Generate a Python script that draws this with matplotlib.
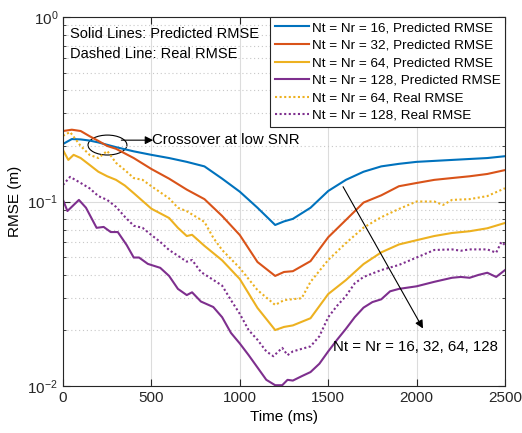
import numpy as np
import matplotlib
matplotlib.use("Agg")
import matplotlib.pyplot as plt
from matplotlib.patches import Ellipse

plt.rcParams['font.family'] = ['Liberation Sans', 'DejaVu Sans']
plt.rcParams['mathtext.fontset'] = 'custom'
plt.rcParams['mathtext.rm'] = 'Liberation Sans'

# -----------------------------
# data (time in ms, RMSE in m)
# -----------------------------
t_16 = [0, 50, 100, 150, 200, 300, 400, 500, 600, 700, 800, 900, 1000, 1100,
        1200, 1250, 1300, 1400, 1500, 1600, 1700, 1800, 1900, 2000, 2100,
        2200, 2300, 2400, 2500]
pred_16 = [0.205, 0.218, 0.217, 0.214, 0.209, 0.197, 0.187, 0.179, 0.172,
           0.164, 0.155, 0.133, 0.113, 0.0925, 0.0746, 0.078, 0.0805, 0.0925,
           0.114, 0.131, 0.145, 0.155, 0.160, 0.164, 0.166, 0.168, 0.170,
           0.172, 0.176]

t_32 = [0, 50, 100, 150, 200, 250, 300, 400, 500, 600, 700, 800, 900, 1000,
        1100, 1200, 1250, 1300, 1400, 1500, 1600, 1700, 1800, 1900, 2000,
        2100, 2200, 2300, 2400, 2500]
pred_32 = [0.241, 0.245, 0.241, 0.226, 0.213, 0.200, 0.193, 0.172, 0.150,
           0.133, 0.116, 0.103, 0.0835, 0.0658, 0.047, 0.0395, 0.0415, 0.0419,
           0.0475, 0.064, 0.0794, 0.0987, 0.108, 0.121, 0.126, 0.131, 0.134,
           0.137, 0.141, 0.148]

t_64 = [0, 30, 60, 100, 150, 200, 250, 300, 350, 400, 500, 600, 650, 700,
        730, 800, 900, 1000, 1100, 1200, 1250, 1300, 1400, 1500, 1600, 1700,
        1800, 1900, 2000, 2100, 2200, 2300, 2400, 2500]
pred_64 = [0.190, 0.168, 0.179, 0.172, 0.158, 0.145, 0.137, 0.131, 0.122,
           0.111, 0.0914, 0.0814, 0.072, 0.065, 0.066, 0.0575, 0.0480, 0.0380,
           0.0265, 0.0201, 0.0209, 0.0213, 0.0233, 0.0315, 0.0375, 0.0458,
           0.0530, 0.0585, 0.0617, 0.0650, 0.0675, 0.0690, 0.0716, 0.0765]

t_64r = [0, 40, 100, 150, 200, 250, 300, 350, 400, 450, 500, 600, 650, 700,
         800, 850, 900, 1000, 1100, 1200, 1250, 1350, 1400, 1500, 1600, 1700,
         1800, 1900, 2000, 2100, 2150, 2200, 2300, 2400, 2500]
real_64 = [0.227, 0.238, 0.200, 0.179, 0.172, 0.188, 0.162, 0.148, 0.134,
           0.131, 0.121, 0.104, 0.0925, 0.0886, 0.0775, 0.0636, 0.0546,
           0.0436, 0.0331, 0.0275, 0.0292, 0.0299, 0.0367, 0.0482, 0.0595,
           0.0722, 0.0822, 0.0911, 0.100, 0.100, 0.0958, 0.102, 0.103, 0.107,
           0.118]

t_128 = [0, 25, 90, 130, 190, 230, 270, 310, 360, 400, 430, 480, 550, 600,
         650, 700, 730, 780, 850, 900, 950, 1000, 1050, 1100, 1150, 1200,
         1240, 1270, 1300, 1350, 1400, 1450, 1500, 1550, 1600, 1650, 1700,
         1750, 1800, 1850, 1900, 2000, 2100, 2200, 2250, 2300, 2350, 2400,
         2450, 2500]
pred_128 = [0.102, 0.0888, 0.102, 0.0925, 0.072, 0.0728, 0.0683, 0.0683,
            0.0581, 0.0497, 0.0497, 0.0459, 0.0437, 0.0395, 0.0336, 0.0311,
            0.0322, 0.0287, 0.0268, 0.0236, 0.0194, 0.0170, 0.0147, 0.0126,
            0.0108, 0.0101, 0.0101, 0.0108, 0.0107, 0.0113, 0.0119, 0.0132,
            0.0154, 0.0178, 0.0204, 0.0236, 0.0266, 0.0285, 0.0295, 0.0326,
            0.0336, 0.0347, 0.0367, 0.0386, 0.0390, 0.0386, 0.0400, 0.0411,
            0.0390, 0.0425]

t_128r = [0, 40, 100, 150, 200, 250, 300, 350, 400, 450, 500, 550, 600, 650,
          700, 730, 780, 850, 900, 950, 1000, 1050, 1100, 1150, 1190, 1240,
          1270, 1300, 1400, 1450, 1500, 1550, 1600, 1650, 1700, 1800, 1900,
          2000, 2100, 2200, 2250, 2300, 2400, 2450, 2480, 2500]
real_128 = [0.123, 0.136, 0.126, 0.118, 0.107, 0.102, 0.0935, 0.0826, 0.0739,
            0.072, 0.0658, 0.0604, 0.0546, 0.0508, 0.0472, 0.0482, 0.0415,
            0.0376, 0.035, 0.0292, 0.0246, 0.0201, 0.0178, 0.0154, 0.0145,
            0.0161, 0.0147, 0.0154, 0.0164, 0.0186, 0.0236, 0.0272, 0.0307,
            0.036, 0.039, 0.0425, 0.0453, 0.0497, 0.0546, 0.055, 0.0541,
            0.055, 0.055, 0.0528, 0.0604, 0.0581]

# MATLAB default colours
c_blue = '#0072BD'
c_red = '#D95319'
c_yellow = '#EDB120'
c_purple = '#7E2F8E'

# -----------------------------
# plot
# -----------------------------
fig = plt.figure(figsize=(5.22, 4.33), dpi=100)
ax = fig.add_axes([63/522, 1 - 386/433, 442/522, 369/433])

ax.plot(t_16, pred_16, color=c_blue, lw=1.5, label='Nt = Nr = 16, Predicted RMSE')
ax.plot(t_32, pred_32, color=c_red, lw=1.5, label='Nt = Nr = 32, Predicted RMSE')
ax.plot(t_64, pred_64, color=c_yellow, lw=1.5, label='Nt = Nr = 64, Predicted RMSE')
ax.plot(t_128, pred_128, color=c_purple, lw=1.5, label='Nt = Nr = 128, Predicted RMSE')
ax.plot(t_64r, real_64, color=c_yellow, lw=1.5, ls=(0, (1, 1.2)), label='Nt = Nr = 64, Real RMSE')
ax.plot(t_128r, real_128, color=c_purple, lw=1.5, ls=(0, (1, 1.2)), label='Nt = Nr = 128, Real RMSE')

ax.set_yscale('log')
ax.set_xlim(0, 2500)
ax.set_ylim(1e-2, 1e0)
ax.set_xticks([0, 500, 1000, 1500, 2000, 2500])
ax.set_xlabel('Time (ms)', fontsize=11)
ax.set_ylabel('RMSE (m)', fontsize=11)

# MATLAB-like axes
ax.grid(True, which='major', color='#dcdcdc', lw=0.8)
ax.grid(True, which='minor', axis='y', color='#c8c8c8', lw=0.8, ls=(0, (1, 2.5)))
ax.tick_params(which='both', direction='in', top=True, right=True, labelsize=11,
               colors='#262626')
ax.tick_params(which='major', length=5)
ax.tick_params(which='minor', length=2.5)
ax.yaxis.set_minor_formatter(plt.NullFormatter())
for sp in ax.spines.values():
    sp.set_color('#262626')
    sp.set_linewidth(0.8)

leg = ax.legend(loc='upper right', fontsize=9.7, handlelength=2.5,
                handletextpad=0.2, labelspacing=0.38, borderaxespad=0,
                borderpad=0.35, fancybox=False, framealpha=1)
leg.get_frame().set_edgecolor('#262626')
leg.get_frame().set_linewidth(0.8)

# text annotations
ax.text(0.015, 0.972, 'Solid Lines: Predicted RMSE', transform=ax.transAxes,
        fontsize=10.5, va='top', ha='left')
ax.text(0.015, 0.918, 'Dashed Line: Real RMSE', transform=ax.transAxes,
        fontsize=10.5, va='top', ha='left')

ell = Ellipse((0.1006, 0.653), 0.088, 0.054, transform=ax.transAxes,
              fill=False, edgecolor='k', lw=0.8)
ax.add_patch(ell)
ax.annotate('Crossover at low SNR', xy=(503, 0.215), xytext=(503, 0.215),
            fontsize=10.8, va='center', ha='left')
ax.annotate('', xy=(510, 0.215), xytext=(330, 0.215),
            arrowprops=dict(arrowstyle='-|>', color='k', lw=0.8,
                            mutation_scale=12, shrinkA=0, shrinkB=0))

ax.annotate('', xy=(2036, 0.0205), xytext=(1584, 0.1203),
            arrowprops=dict(arrowstyle='-|>', color='k', lw=0.8,
                            mutation_scale=12, shrinkA=0, shrinkB=0))
ax.text(1525, 0.01633, 'Nt = Nr = 16, 32, 64, 128', fontsize=10.8,
        va='center', ha='left')

fig.savefig('out.png', dpi=100)
